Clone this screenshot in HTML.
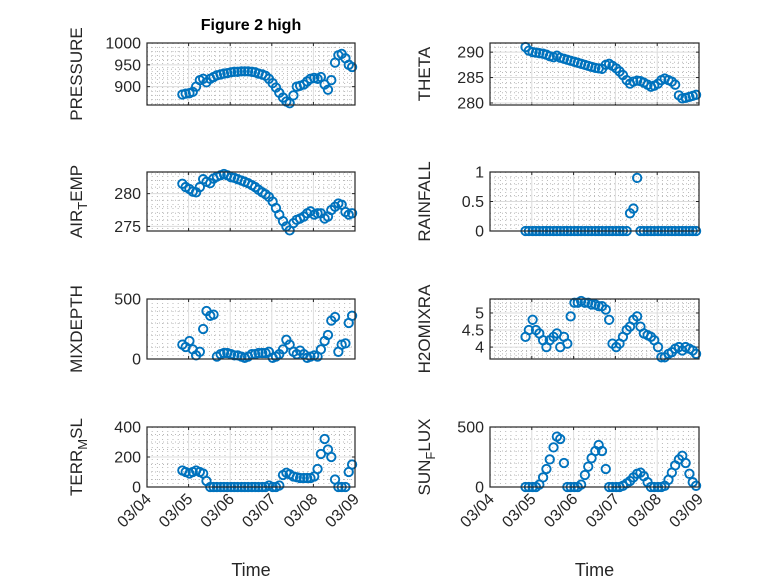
<!DOCTYPE html>
<html><head><meta charset="utf-8"><style>
html,body{margin:0;padding:0;background:#fff;}
svg{display:block;font-family:"Liberation Sans",sans-serif;}
</style></head><body>
<svg id="fig" width="778" height="583" viewBox="0 0 778 583">
<rect width="778" height="583" fill="#fff"/>
<text x="251" y="30" text-anchor="middle" font-size="16" font-weight="bold" fill="#000">Figure 2 high</text>
</svg>
<script>
const times = [4.85,4.93,5.02,5.10,5.18,5.27,5.35,5.43,5.52,5.60,5.68,5.77,5.85,5.93,6.02,6.10,6.18,6.27,6.35,6.43,6.52,6.60,6.68,6.77,6.85,6.93,7.02,7.10,7.18,7.27,7.35,7.43,7.52,7.60,7.68,7.77,7.85,7.93,8.02,8.10,8.18,8.27,8.35,8.43,8.52,8.60,8.68,8.77,8.85,8.93];
const xTickLabels = ["03/04","03/05","03/06","03/07","03/08","03/09"];
const pressure = [882,884,885,888,900,915,918,910,918,922,926,928,930,931,933,934,934,935,935,935,934,933,930,928,925,918,908,898,886,875,866,862,880,900,902,905,912,918,920,918,922,905,893,915,955,972,975,965,950,945];
const theta = [291,290.3,290,289.9,289.8,289.7,289.5,289.2,289,289.3,288.9,288.7,288.5,288.3,288.1,287.9,287.7,287.5,287.3,287.1,286.9,286.8,286.7,287.5,287.7,287.3,286.8,286.2,285.5,284.5,283.8,284.2,284.4,284.3,284,283.6,283.2,283.4,283.8,284.5,284.8,284.5,284.2,283.6,281.5,280.9,281,281.2,281.4,281.6];
const airTemp = [281.5,281,280.7,280.3,280.2,281,282.2,281.8,281.6,282.3,282.6,282.8,283,282.8,282.5,282.4,282.2,282,281.8,281.6,281.3,281,280.6,280.2,279.9,279.5,278.8,277.8,276.8,275.8,275,274.4,275.5,276,276.2,276.5,277,277.3,276.8,277,277,276.2,276.5,277.5,278,278.5,278.3,277.2,276.8,277];
const rainfall = [0,0,0,0,0,0,0,0,0,0,0,0,0,0,0,0,0,0,0,0,0,0,0,0,0,0,0,0,0,0,0.3,0.38,0.9,0,0,0,0,0,0,0,0,0,0,0,0,0,0,0,0,0];
const mixDepth = [120,100,150,80,30,60,250,400,360,370,20,40,50,50,40,30,30,20,10,20,40,40,50,50,50,60,10,20,40,80,160,120,60,40,70,40,10,20,30,20,80,150,200,320,350,60,120,130,300,360];
const h2oMix = [4.3,4.5,4.8,4.5,4.4,4.2,4.0,4.2,4.3,4.4,4.0,4.3,4.1,4.9,5.3,5.3,5.35,5.3,5.3,5.25,5.25,5.2,5.2,5.1,4.8,4.1,4.0,4.1,4.3,4.5,4.6,4.8,4.9,4.6,4.4,4.35,4.3,4.2,4.0,3.7,3.7,3.8,3.85,3.95,4.0,3.9,4.0,3.95,3.9,3.8];
const terrMsl = [110,100,90,100,110,100,90,40,0,0,0,0,0,0,0,0,0,0,0,0,0,0,0,0,0,10,0,0,10,80,95,85,70,65,60,60,60,60,70,120,220,320,250,200,50,0,0,0,100,150];
const sunFlux = [0,0,0,0,20,80,150,230,330,420,400,200,0,0,0,0,20,100,170,240,300,350,300,150,0,0,0,0,10,30,50,80,110,120,90,40,0,0,0,0,10,60,120,180,230,260,200,110,40,10];
const pressureTicks = [900,950,1000];
const thetaTicks = [280,285,290];
const airTempTicks = [275,280];
const rainTicks = [0,0.5,1];
const mixTicks = [0,500];
const h2oTicks = [4,4.5,5];
const terrTicks = [0,200,400];
const sunTicks = [0,500];

const NS="http://www.w3.org/2000/svg";
const svg=document.getElementById('fig');
function mk(tag,attrs,parent){const e=document.createElementNS(NS,tag);for(const k in attrs)e.setAttribute(k,attrs[k]);(parent||svg).appendChild(e);return e;}
const cols=[{x0:147,x1:355,lab:82},{x0:490,x1:699,lab:430}];
const rows=[{y0:43,y1:105},{y0:172,y1:231},{y0:299,y1:359},{y0:427,y1:487}];
const panels=[
 {name:'pressure',c:0,r:0,data:pressure,ticks:pressureTicks,lo:858,hi:1000,minor:10,label:['PRESSURE']},
 {name:'theta',c:1,r:0,data:theta,ticks:thetaTicks,lo:279.6,hi:291.8,minor:1,label:['THETA']},
 {name:'air-temp',c:0,r:1,data:airTemp,ticks:airTempTicks,lo:274.3,hi:283.3,minor:1,label:['AIR','T','EMP']},
 {name:'rainfall',c:1,r:1,data:rainfall,ticks:rainTicks,lo:0,hi:1,minor:0.1,label:['RAINFALL']},
 {name:'mixdepth',c:0,r:2,data:mixDepth,ticks:mixTicks,lo:0,hi:500,minor:100,label:['MIXDEPTH']},
 {name:'h2omixra',c:1,r:2,data:h2oMix,ticks:h2oTicks,lo:3.65,hi:5.41,minor:0.1,label:['H2OMIXRA']},
 {name:'terr-msl',c:0,r:3,data:terrMsl,ticks:terrTicks,lo:0,hi:400,minor:50,label:['TERR','M','SL']},
 {name:'sun-flux',c:1,r:3,data:sunFlux,ticks:sunTicks,lo:0,hi:500,minor:100,label:['SUN','F','LUX']}
];
panels.forEach(p=>{
 const C=cols[p.c],R=rows[p.r];
 const xs=t=>C.x0+(t-4)/5*(C.x1-C.x0);
 const ys=v=>R.y1-(v-p.lo)/(p.hi-p.lo)*(R.y1-R.y0);
 const g=mk('g',{});
 
 
 mk('rect',{x:C.x0,y:R.y0,width:C.x1-C.x0,height:R.y1-R.y0,fill:'#fff'},g);
 for(let d=4;d<9;d+=0.125){const x=xs(d);if(Math.abs(d-Math.round(d))<1e-6)continue;
  mk('line',{x1:x,x2:x,y1:R.y0,y2:R.y1,stroke:'#b8b8b8','stroke-width':1,'stroke-dasharray':'1 3'},g);}
 const start=Math.ceil(p.lo/p.minor);
 for(let k=start;k*p.minor<=p.hi+1e-9;k++){const v=k*p.minor;if(p.ticks.some(t=>Math.abs(t-v)<1e-9))continue;const y=ys(v);
  mk('line',{x1:C.x0,x2:C.x1,y1:y,y2:y,stroke:'#b8b8b8','stroke-width':1,'stroke-dasharray':'1 3'},g);}
 for(let d=5;d<9;d++){const x=xs(d);mk('line',{x1:x,x2:x,y1:R.y0,y2:R.y1,stroke:'#dcdcdc','stroke-width':1},g);
  mk('line',{x1:x,x2:x,y1:R.y1,y2:R.y1-3,stroke:'#262626'},g);mk('line',{x1:x,x2:x,y1:R.y0,y2:R.y0+3,stroke:'#262626'},g);}
 p.ticks.forEach(v=>{const y=ys(v);
  mk('line',{x1:C.x0,x2:C.x1,y1:y,y2:y,stroke:'#dcdcdc','stroke-width':1},g);
  mk('line',{x1:C.x0,x2:C.x0+3,y1:y,y2:y,stroke:'#262626'},g);
  mk('line',{x1:C.x1,x2:C.x1-3,y1:y,y2:y,stroke:'#262626'},g);
  const t=mk('text',{x:C.x0-6,y:y+5.5,'text-anchor':'end','font-size':16,fill:'#262626'},g);t.textContent=String(v);
  
  
 });
 const n=Math.min(times.length,p.data.length);
 for(let i=0;i<n;i++){
  const c=mk('circle',{cx:xs(times[i]),cy:ys(p.data[i]),r:4.2,fill:'none',stroke:'#0072BD','stroke-width':1.9},g);
  
  
 }
 mk('rect',{x:C.x0,y:R.y0,width:C.x1-C.x0,height:R.y1-R.y0,fill:'none',stroke:'#262626','stroke-width':1.2},g);
 const cy=(R.y0+R.y1)/2;
 const lt=mk('text',{transform:`translate(${C.lab},${cy}) rotate(-90)`,'text-anchor':'middle','font-size':17,fill:'#262626'},g);
 
 
 if(p.label.length===1){lt.textContent=p.label[0];}
 else{const a=mk('tspan',{},lt);a.textContent=p.label[0];
  const b=mk('tspan',{dy:5,'font-size':13},lt);b.textContent=p.label[1];
  const c2=mk('tspan',{dy:-5},lt);c2.textContent=p.label[2];}
 if(p.r===3){
  xTickLabels.forEach((s,i)=>{const x=xs(4+i);
   const t=mk('text',{transform:`translate(${x+5},${R.y1+13}) rotate(-45)`,'text-anchor':'end','font-size':16,fill:'#262626'},g);
   t.textContent=s;
   
   
  });
  const xl=mk('text',{x:(C.x0+C.x1)/2,y:576,'text-anchor':'middle','font-size':18,fill:'#262626'},g);
  xl.textContent='Time';
  
  
 }
});
</script>
</body></html>
